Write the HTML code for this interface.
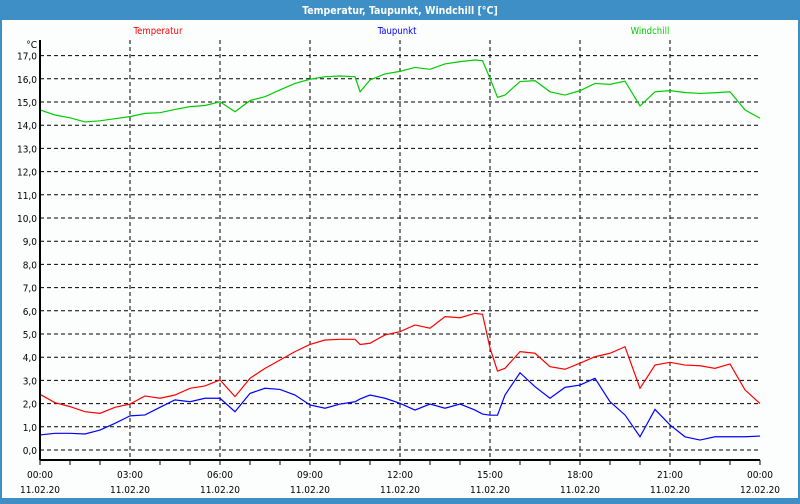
<!DOCTYPE html>
<html><head><meta charset="utf-8">
<style>
html,body{margin:0;padding:0;}
body{width:800px;height:500px;overflow:hidden;background:#3d8fc6;font-family:"DejaVu Sans","Liberation Sans",sans-serif;}
#win{position:absolute;left:0;top:0;width:800px;height:500px;}
text{font-stretch:condensed;}
</style></head>
<body>
<div id="win">
<svg id="chart" width="800" height="500" xmlns="http://www.w3.org/2000/svg">
<rect x="0" y="0" width="800" height="500" fill="#3d8fc6"/>
<rect x="2" y="20" width="796" height="478" fill="#fcfefe"/>
<text x="400" y="14" text-anchor="middle" fill="#ffffff" font-size="10.5" font-weight="bold">Temperatur, Taupunkt, Windchill [°C]</text>
<text x="158" y="34" text-anchor="middle" fill="#ff0000" font-size="9.5">Temperatur</text>
<text x="397" y="34" text-anchor="middle" fill="#0000ff" font-size="9.5">Taupunkt</text>
<text x="650" y="34" text-anchor="middle" fill="#00cc00" font-size="9.5">Windchill</text>
<text x="37" y="48" text-anchor="end" fill="#000" font-size="10">°C</text>
<g id="grid"></g>
<g id="series"></g>
<g id="axes"></g>
</svg>
</div>
<script>
const yTicks = [0,1,2,3,4,5,6,7,8,9,10,11,12,13,14,15,16,17];
const xTickTimes = ["00:00","03:00","06:00","09:00","12:00","15:00","18:00","21:00","00:00"];
const xTickDates = ["11.02.20","11.02.20","11.02.20","11.02.20","11.02.20","11.02.20","11.02.20","11.02.20","12.02.20"];
const hours = [0,0.5,1,1.5,2,2.5,3,3.5,4,4.5,5,5.5,6,6.5,7,7.5,8,8.5,9,9.5,10,10.5,10.67,11,11.5,12,12.5,13,13.5,14,14.5,14.75,15,15.25,15.5,16,16.5,17,17.5,18,18.5,19,19.5,20,20.5,21,21.5,22,22.5,23,23.5,24];
const windchill = [14.66,14.44,14.32,14.14,14.19,14.28,14.37,14.51,14.54,14.68,14.80,14.85,15.01,14.58,15.06,15.23,15.52,15.80,15.98,16.09,16.12,16.09,15.44,15.95,16.21,16.32,16.49,16.41,16.64,16.74,16.81,16.78,16.02,15.2,15.3,15.88,15.92,15.44,15.30,15.49,15.80,15.76,15.90,14.83,15.44,15.49,15.41,15.37,15.40,15.44,14.66,14.30];
const temperatur = [2.40,2.04,1.87,1.65,1.58,1.84,1.98,2.33,2.23,2.37,2.66,2.76,3.02,2.30,3.09,3.52,3.88,4.24,4.55,4.74,4.77,4.77,4.55,4.60,4.96,5.10,5.39,5.25,5.75,5.70,5.89,5.85,4.40,3.40,3.52,4.24,4.17,3.59,3.48,3.74,4.02,4.17,4.45,2.66,3.66,3.78,3.66,3.63,3.52,3.71,2.59,2.00];
const taupunkt = [0.65,0.72,0.72,0.69,0.86,1.15,1.47,1.51,1.84,2.16,2.08,2.23,2.23,1.65,2.44,2.66,2.61,2.37,1.94,1.80,1.98,2.08,2.2,2.37,2.23,2.01,1.72,1.98,1.80,1.98,1.72,1.55,1.50,1.50,2.37,3.33,2.73,2.23,2.70,2.80,3.09,2.08,1.51,0.57,1.75,1.08,0.57,0.43,0.57,0.57,0.57,0.60];

const X0=40, X1=760, Y0=450, UNIT=23.2;
const xs = h => X0 + h*(X1-X0)/24;
const ys = v => Y0 - v*UNIT;
const NS="http://www.w3.org/2000/svg";
function mk(tag, attrs, parent){const e=document.createElementNS(NS,tag);for(const k in attrs)e.setAttribute(k,attrs[k]);parent.appendChild(e);return e;}
const grid=document.getElementById('grid'), axes=document.getElementById('axes'), ser=document.getElementById('series');

yTicks.forEach(v=>{
  const l=mk('line',{x1:X0,x2:X1,y1:ys(v),y2:ys(v),stroke:'#000','stroke-dasharray':'4,3','stroke-width':1},grid);
  
  
  const t=mk('text',{x:37,y:ys(v)+4,'text-anchor':'end','font-size':10,fill:'#000'},axes);
  t.textContent=v.toFixed(1).replace('.',',');
  
  
});
xTickTimes.forEach((lab,i)=>{
  const x=xs(i*3);
  if(i>0&&i<8){
    const l=mk('line',{x1:x,x2:x,y1:40,y2:Y0+10,stroke:'#000','stroke-dasharray':'4,3','stroke-width':1},grid);
    
    
  }
  const t=mk('text',{x:x,y:478,'text-anchor':'middle','font-size':10,fill:'#000'},axes);
  t.textContent=lab;
  
  
  const d=mk('text',{x:x,y:493,'text-anchor':'middle','font-size':10,fill:'#000'},axes);
  d.textContent=xTickDates[i];
  
  
});
for(let h=0;h<=24;h++){
  const l=mk('line',{x1:xs(h),x2:xs(h),y1:Y0+10,y2:Y0+15,stroke:'#000'},axes);
  
  
}
const ya=mk('line',{x1:X0,x2:X0,y1:40,y2:Y0+10,stroke:'#000','stroke-width':2},axes);


const xa=mk('line',{x1:X0,x2:X1,y1:Y0+10,y2:Y0+10,stroke:'#000','stroke-width':2},axes);



function line(arr,color,name){
  const p=mk('polyline',{points:arr.map((v,i)=>xs(hours[i])+','+ys(v)).join(' '),fill:'none',stroke:color,'stroke-width':1.2},ser);
  
  
}
line(windchill,'#00cc00','windchill-line');
line(temperatur,'#ff0000','temperatur-line');
line(taupunkt,'#0000ff','taupunkt-line');
</script>
</body></html>
